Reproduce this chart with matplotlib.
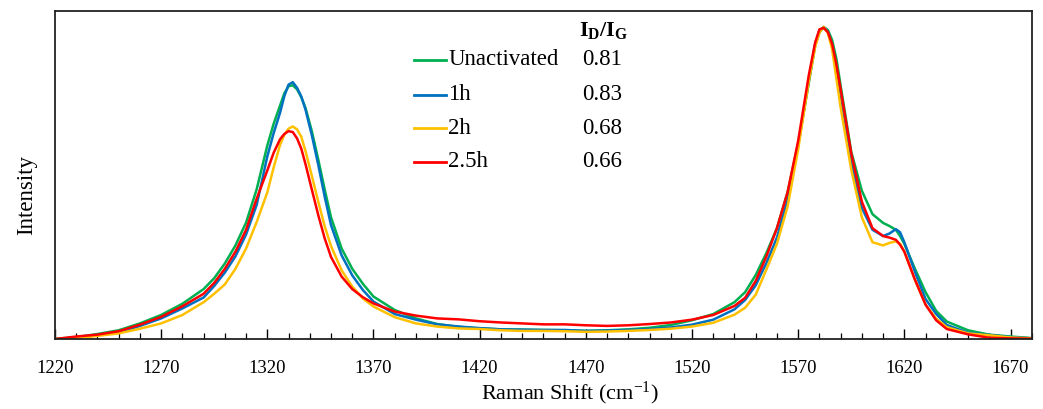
import matplotlib
matplotlib.use('Agg')
import matplotlib.pyplot as plt
import numpy as np
from matplotlib.ticker import MultipleLocator

plt.rcParams['font.family'] = 'Liberation Serif'
plt.rcParams['mathtext.fontset'] = 'custom'
plt.rcParams['mathtext.rm'] = 'Liberation Serif'
plt.rcParams['mathtext.it'] = 'Liberation Serif:italic'
plt.rcParams['mathtext.bf'] = 'Liberation Serif:bold'

# Raman shift (cm-1), shared by all four spectra
raman_shift = [1220, 1230, 1240, 1250, 1260, 1270, 1280, 1290, 1295, 1300, 1305, 1310, 1315,
               1320, 1323, 1326, 1328, 1330, 1332, 1334, 1336, 1338, 1341, 1344, 1347, 1350,
               1355, 1360, 1365, 1370, 1380, 1390,
               1400, 1410, 1420, 1430, 1440, 1450, 1460, 1470, 1480, 1490, 1500, 1510, 1520, 1530,
               1540, 1545, 1550, 1555, 1560, 1565, 1570, 1575,
               1578, 1580, 1582, 1584, 1586, 1588, 1590,
               1595, 1600, 1605, 1610, 1613, 1616, 1618, 1620,
               1625, 1630, 1635, 1640, 1650, 1660, 1670, 1680]

# normalised intensity (G band = 1)
unactivated = [0.0, 0.006, 0.016, 0.028, 0.05, 0.077, 0.113, 0.16, 0.195, 0.242, 0.30, 0.373, 0.48,
               0.62, 0.69, 0.748, 0.787, 0.81, 0.813, 0.80, 0.775, 0.74, 0.665, 0.575, 0.48, 0.39,
               0.29, 0.225, 0.177, 0.136, 0.093, 0.066,
               0.048, 0.039, 0.034, 0.031, 0.030, 0.029, 0.028, 0.026, 0.028, 0.031, 0.036, 0.045, 0.06, 0.08,
               0.118, 0.15, 0.205, 0.275, 0.355, 0.47, 0.625, 0.82,
               0.94, 0.982, 1.0, 0.99, 0.958, 0.898, 0.812,
               0.60, 0.475, 0.40, 0.372, 0.362, 0.35, 0.33, 0.305,
               0.225, 0.15, 0.09, 0.056, 0.028, 0.014, 0.008, 0.003]
act_1h = [0.0, 0.004, 0.012, 0.022, 0.042, 0.066, 0.098, 0.133, 0.17, 0.213, 0.265, 0.335, 0.43,
          0.585, 0.66, 0.725, 0.778, 0.815, 0.823, 0.805, 0.777, 0.735, 0.652, 0.558, 0.457, 0.365,
          0.268, 0.204, 0.157, 0.12, 0.08, 0.062,
          0.047, 0.040, 0.035, 0.031, 0.030, 0.029, 0.029, 0.026, 0.027, 0.029, 0.032, 0.037, 0.046, 0.062,
          0.095, 0.125, 0.172, 0.243, 0.325, 0.445, 0.62, 0.83,
          0.945, 0.988, 0.998, 0.985, 0.94, 0.85, 0.758,
          0.565, 0.42, 0.35, 0.33, 0.338, 0.352, 0.342, 0.31,
          0.215, 0.128, 0.08, 0.045, 0.02, 0.013, 0.006, 0.002]
act_2h = [0.0, 0.003, 0.01, 0.018, 0.033, 0.05, 0.077, 0.118, 0.145, 0.175, 0.225, 0.29, 0.375,
          0.47, 0.55, 0.622, 0.654, 0.674, 0.681, 0.672, 0.648, 0.602, 0.522, 0.44, 0.362, 0.298,
          0.22, 0.168, 0.13, 0.104, 0.07, 0.05,
          0.04, 0.034, 0.032, 0.028, 0.026, 0.026, 0.025, 0.023, 0.024, 0.026, 0.029, 0.033, 0.04, 0.052,
          0.078, 0.10, 0.142, 0.222, 0.305, 0.424, 0.608, 0.826,
          0.935, 0.982, 1.0, 0.98, 0.928, 0.835, 0.742,
          0.543, 0.39, 0.31, 0.30, 0.308, 0.313, 0.305, 0.28,
          0.19, 0.11, 0.065, 0.038, 0.018, 0.012, 0.005, 0.002]
act_2_5h = [0.0, 0.008, 0.014, 0.025, 0.046, 0.071, 0.105, 0.145, 0.18, 0.225, 0.28, 0.35, 0.45,
            0.54, 0.597, 0.64, 0.657, 0.666, 0.663, 0.643, 0.61, 0.56, 0.478, 0.397, 0.323, 0.263,
            0.20, 0.16, 0.134, 0.114, 0.088, 0.075,
            0.066, 0.063, 0.057, 0.053, 0.050, 0.047, 0.047, 0.044, 0.042, 0.044, 0.048, 0.053, 0.062, 0.077,
            0.106, 0.132, 0.186, 0.264, 0.355, 0.47, 0.635, 0.845,
            0.95, 0.992, 0.997, 0.983, 0.945, 0.88, 0.80,
            0.595, 0.44, 0.355, 0.33, 0.325, 0.318, 0.302, 0.28,
            0.19, 0.11, 0.06, 0.032, 0.015, 0.004, 0.002, 0.001]

labels = ['Unactivated', '1h', '2h', '2.5h']
id_ig = ['0.81', '0.83', '0.68', '0.66']
colors = ['#00B050', '#0070C0', '#FFC000', '#FF0000']
spectra = [unactivated, act_1h, act_2h, act_2_5h]

fig = plt.figure(figsize=(10.43, 4.09), dpi=100)
ax = fig.add_axes([0.0527, 0.1711, 0.9365, 0.802])

for y, c in zip(spectra, colors):
    ax.plot(raman_shift, y, color=c, lw=1.8, solid_joinstyle='round')

ax.set_xlim(1220, 1680)
ax.set_ylim(0, 1.051)
ax.set_xticks(np.arange(1220, 1671, 50))
ax.xaxis.set_minor_locator(MultipleLocator(10))
ax.set_yticks([])
ax.tick_params(axis='x', which='major', direction='in', length=7, width=1.0,
               pad=15, labelsize=13.5)
ax.tick_params(axis='x', which='minor', direction='in', length=4, width=0.9)
for s in ax.spines.values():
    s.set_linewidth(1.3)
    s.set_color('#222222')

ax.set_xlabel('Raman Shift (cm$^{-1}$)', fontsize=16)
ax.xaxis.set_label_coords(0.527, -0.124)
ax.set_ylabel('Intensity', fontsize=16.5)
ax.yaxis.set_label_coords(-0.018, 0.44)

# legend with I_D/I_G column
ax.text(0.537, 0.942, r'$\mathbf{I_D/I_G}$', transform=ax.transAxes,
        fontsize=16, va='center', ha='left')
row_y = [0.851, 0.744, 0.643, 0.540]
for ry, lab, val, c in zip(row_y, labels, id_ig, colors):
    ax.plot([0.3675, 0.400], [ry, ry], transform=ax.transAxes, color=c, lw=2)
    ax.text(0.4025, ry, lab, transform=ax.transAxes, fontsize=16.5, va='center', ha='left')
    ax.text(0.540, ry, val, transform=ax.transAxes, fontsize=16.5, va='center', ha='left')

fig.savefig('out.png', dpi=100, facecolor='white')
